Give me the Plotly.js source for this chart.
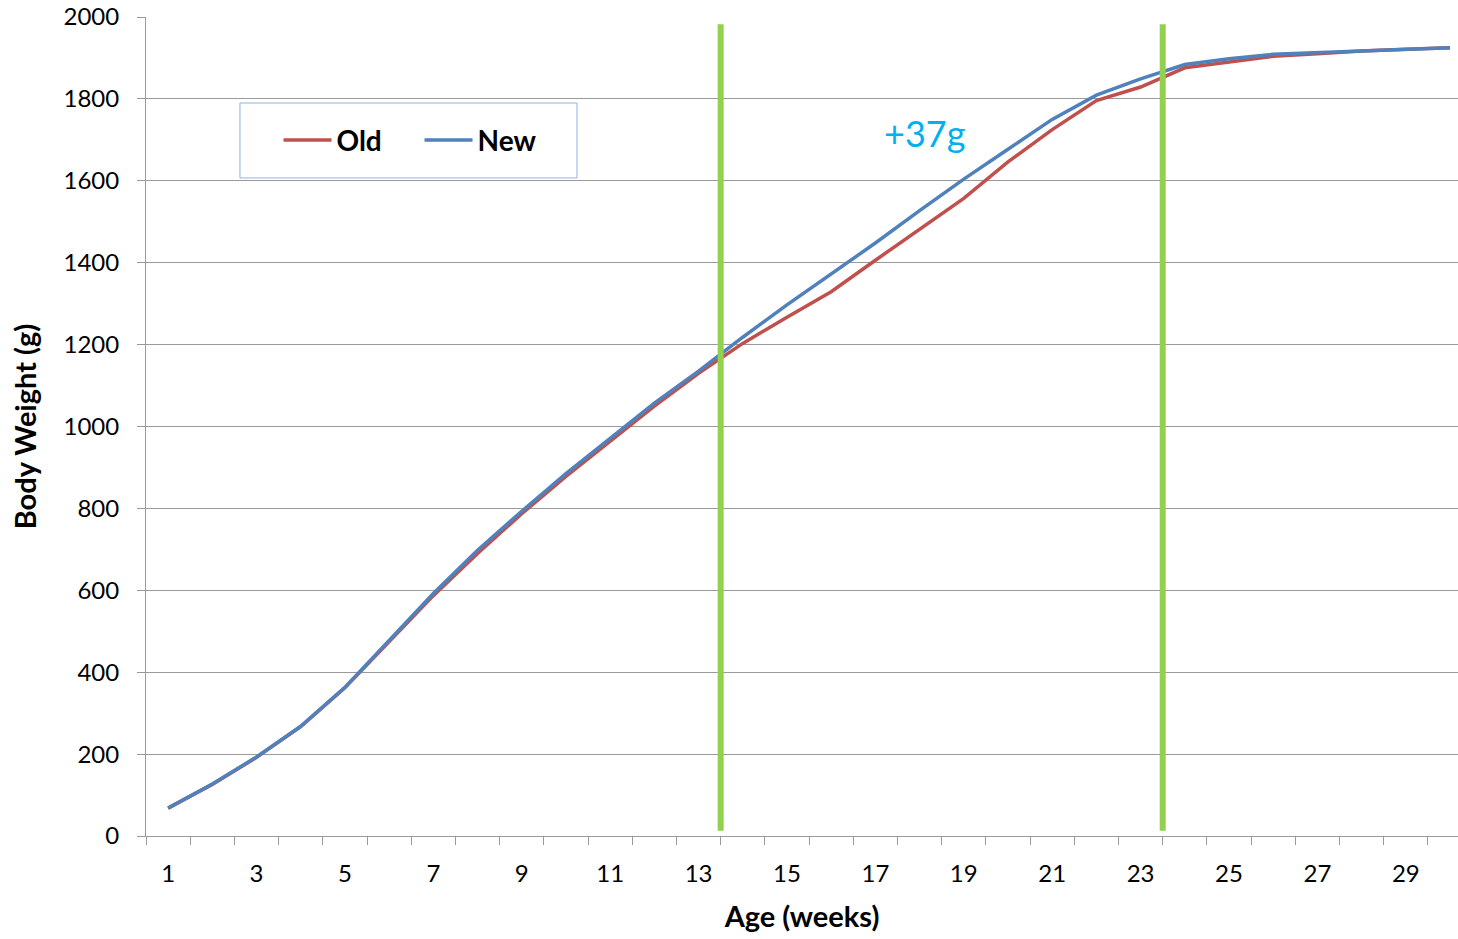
<!DOCTYPE html>
<html>
<head>
<meta charset="utf-8">
<script src="https://cdn.plot.ly/plotly-3.0.1.min.js"></script>
<style>
html,body{margin:0;padding:0;background:#fff;}
#chart{width:1458px;height:939px;}
</style>
</head>
<body>
<div id="chart"></div>
<script>
// Data
const ageWeeks = [1,2,3,4,5,6,7,8,9,10,11,12,13,14,15,16,17,18,19,20,21,22,23,24,25,26,27,28,29,30];
const oldWeight = [68,126,192,267,362,474,587,690,787,878,965,1050,1130,1203,1267,1329,1406,1482,1557,1646,1725,1796,1829,1876,1889,1904,1910,1917,1921,1925];
const newWeight = [68,127,193,268,363,476,592,698,793,885,972,1057,1135,1218,1297,1372,1448,1527,1604,1677,1750,1809,1849,1884,1898,1909,1913,1918,1921,1925];
const xTickLabels = [1,3,5,7,9,11,13,15,17,19,21,23,25,27,29];
const phaseMarkers = [13.5, 23.5];
const annotationText = "+37g";

const FONT = "Lato, 'Open Sans', sans-serif";
const GRID = "#9a9a9a";

const traces = [
  {x: ageWeeks, y: oldWeight, name: "Old", type: "scatter", mode: "lines",
   line: {color: "#C0504D", width: 3.5}},
  {x: ageWeeks, y: newWeight, name: "New", type: "scatter", mode: "lines",
   line: {color: "#4F81BD", width: 3.5}}
];

const shapes = phaseMarkers.map(v => ({
  type: "line", xref: "x", yref: "y", x0: v, x1: v, y0: 13, y1: 1982,
  line: {color: "#92D050", width: 6}, layer: "above"
}));
// legend frame
shapes.push({
  type: "rect", xref: "paper", yref: "paper",
  x0: 0.0716, x1: 0.3285, y0: 0.8035, y1: 0.895,
  line: {color: "#8EB4E3", width: 1}, fillcolor: "#ffffff", layer: "above"
});

const layout = {
  width: 1458, height: 939,
  margin: {l: 146, r: 0, t: 17, b: 102.5, pad: 0},
  paper_bgcolor: "#fff", plot_bgcolor: "#fff",
  font: {family: FONT, color: "#000", size: 24},
  showlegend: true,
  legend: {
    orientation: "h", x: 0.101, y: 0.88, xanchor: "left", yanchor: "top",
    bgcolor: "rgba(0,0,0,0)", borderwidth: 0,
    font: {family: FONT, size: 28, color: "#000", weight: "bold"},
    itemwidth: 48,
    entrywidth: 78, entrywidthmode: "pixels", traceorder: "normal"
  },
  xaxis: {
    type: "linear", range: [0.5, 30.18], fixedrange: true,
    tickmode: "array", tickvals: xTickLabels, ticktext: xTickLabels.map(String),
    ticks: "outside", ticklen: 8, tickcolor: "rgba(0,0,0,0)",
    ticklabelstandoff: 8,
    minor: {tick0: 0.5, dtick: 1, ticks: "outside", ticklen: 8, tickcolor: GRID, tickwidth: 1, showgrid: false},
    showgrid: false, zeroline: false,
    showline: true, linecolor: GRID, linewidth: 1,
    tickfont: {family: FONT, size: 24, color: "#000"},
    title: {text: "Age (weeks)", font: {family: FONT, size: 29, color: "#000", weight: "bold"}, standoff: 20}
  },
  yaxis: {
    range: [0, 2000], fixedrange: true,
    tickmode: "linear", tick0: 0, dtick: 200,
    ticks: "outside", ticklen: 8, tickcolor: GRID, tickwidth: 1,
    ticklabelstandoff: 13,
    showgrid: true, gridcolor: GRID, gridwidth: 1,
    zeroline: false, showline: true, linecolor: GRID, linewidth: 1,
    tickfont: {family: FONT, size: 24, color: "#000"},
    title: {text: "Body Weight (g)", font: {family: FONT, size: 29, color: "#000", weight: "bold"}, standoff: 18}
  },
  shapes: shapes,
  annotations: [{
    x: 18.12, y: 1716, xref: "x", yref: "y", text: annotationText, showarrow: false,
    font: {family: FONT, size: 36, color: "#00B0F0"}, xanchor: "center", yanchor: "middle"
  }]
};

Plotly.newPlot("chart", traces, layout, {displayModeBar: false, staticPlot: true});
</script>
</body>
</html>
